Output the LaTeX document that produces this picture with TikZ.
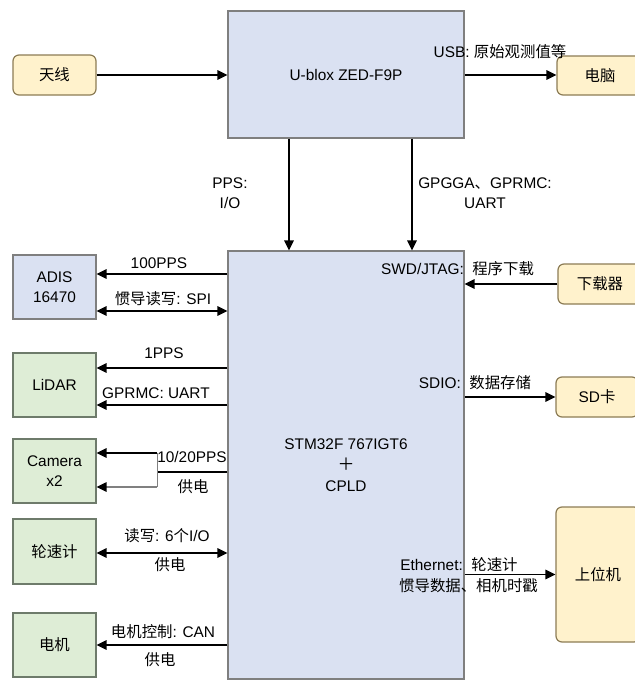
\documentclass[tikz,border=0pt]{standalone}
\usepackage{fontspec}
\setmainfont{Liberation Sans}
\newfontfamily\cjk{Noto Sans CJK SC}
\newcommand\zh[1]{{\cjk #1}}
\usetikzlibrary{arrows.meta}
\definecolor{bluefill}{HTML}{DAE1F2}
\definecolor{blueline}{HTML}{7F7F7F}
\definecolor{greenfill}{HTML}{DEEDD6}
\definecolor{greenline}{HTML}{6E7B6B}
\definecolor{yelfill}{HTML}{FFF2CC}
\definecolor{yelline}{HTML}{8C7C55}
\definecolor{thinline}{HTML}{808080}
\begin{document}
\begin{tikzpicture}[x=1pt,y=-1pt,
 font=\fontsize{15.4}{20}\selectfont,
 bluebox/.style={draw=blueline,fill=bluefill,line width=1.2pt,align=center,inner sep=0pt},
 greenbox/.style={draw=greenline,fill=greenfill,line width=1.2pt,align=center,inner sep=0pt,minimum width=83pt,minimum height=64pt},
 yelbox/.style={draw=yelline,fill=yelfill,line width=1.2pt,rounded corners=6pt,align=center,inner sep=0pt},
 arr/.style={line width=1.5pt,-{Triangle[length=10pt,width=9.5pt]}},
 darr/.style={line width=1.5pt,{Triangle[length=10pt,width=9.5pt]}-{Triangle[length=10pt,width=9.5pt]}},
 lbl/.style={inner sep=0pt,align=center}]
\useasboundingbox (0,0) rectangle (635,686);
\fill[white] (0,0) rectangle (635,686);
\clip (0,0) rectangle (635,686);

% boxes
\node[yelbox,minimum width=83pt,minimum height=40pt] (ant) at (54.5,75) {\zh{天线}};
\node[bluebox,minimum width=236pt,minimum height=127pt] (ublox) at (346,74.5) {U-blox ZED-F9P};
\node[yelbox,minimum width=86pt,minimum height=39pt] (pc) at (600,75.5) {\zh{电脑}};
\node[bluebox,minimum width=236pt,minimum height=428pt] (stm) at (346,465) {STM32F 767IGT6\\[1pt]{\fontsize{17}{20}\selectfont\zh{＋}}\\[1pt]CPLD};
\node[bluebox,minimum width=83pt,minimum height=64pt] (adis) at (54.5,287) {ADIS\\16470};
\node[greenbox] (lidar) at (54.5,385) {LiDAR};
\node[greenbox] (cam) at (54.5,471) {Camera\\x2};
\node[greenbox,minimum height=65pt] (wheel) at (54.5,551.5) {\zh{轮速计}};
\node[greenbox] (motor) at (54.5,645) {\zh{电机}};
\node[yelbox,minimum width=84pt,minimum height=40pt] (dl) at (600,284) {\zh{下载器}};
\node[yelbox,minimum width=82pt,minimum height=40pt] (sd) at (597,397) {SD\zh{卡}};
\node[yelbox,minimum width=84pt,minimum height=135pt] (host) at (598,574.5) {\zh{上位机}};

% connectors top
\draw[arr] (ant.east) -- (ublox.west |- ant.east);
\draw[arr] (ublox.east |- 0,75) -- (pc.west |- 0,75);
\draw[arr] ([xshift=-57pt]ublox.south) -- ([xshift=-57pt]stm.north);
\draw[arr] ([xshift=66pt]ublox.south) -- ([xshift=66pt]stm.north);

% left side
\draw[arr] (stm.west |- 0,274) -- (adis.east |- 0,274);
\draw[darr] (adis.east |- 0,311) -- (stm.west |- 0,311);
\draw[arr] (stm.west |- 0,368) -- (lidar.east |- 0,368);
\draw[arr] (stm.west |- 0,405) -- (lidar.east |- 0,405);
\coordinate (camsplit) at (157,472);
\draw[line width=1.5pt] (stm.west |- camsplit) -- (camsplit);
\draw[line width=1pt,thinline] (157,453) -- (157,487);
\draw[arr] (157,453) -- (cam.east |- 0,453);
\draw[line width=1.3pt,thinline,-{Triangle[length=10pt,width=9.5pt,color=black,fill=black]}] (157,487) -- (cam.east |- 0,487);
\draw[darr] (wheel.east |- 0,553) -- (stm.west |- 0,553);
\draw[arr] (stm.west |- 0,645) -- (motor.east |- 0,645);

% right side
\draw[arr] (dl.west) -- (stm.east |- dl.west);
\draw[arr] (stm.east |- sd.west) -- (sd.west);
\draw[arr] (stm.east |- host.west) -- (host.west);

% labels
\node[lbl] at (500,52) {USB: \zh{原始观测值等}};
\node[lbl] at (230,193) {PPS:\\I/O};
\node[lbl] at (485,193) {GPGGA\zh{、}GPRMC:\\UART};
\node[lbl] at (159,263) {100PPS};
\node[lbl] at (163,299) {\zh{惯导读写}: SPI};
\node[lbl] at (164,353) {1PPS};
\node[lbl] at (156,393) {GPRMC: UART};
\node[lbl] at (192,457) {10/20PPS};
\node[lbl] at (193,487) {\zh{供电}};
\node[lbl] at (167,536) {\zh{读写}: 6\zh{个}I/O};
\node[lbl] at (170,565) {\zh{供电}};
\node[lbl] at (163,632) {\zh{电机控制}: CAN};
\node[lbl] at (160,660) {\zh{供电}};
\node[lbl] at (457.5,269) {SWD/JTAG:\ \ \zh{程序下载}};
\node[lbl] at (475,383) {SDIO:\ \ \zh{数据存储}};
\node[lbl] at (459,565) {Ethernet:\ \ \zh{轮速计}};
\node[lbl] at (468.5,586) {\zh{惯导数据、相机时戳}};
\end{tikzpicture}
\end{document}
